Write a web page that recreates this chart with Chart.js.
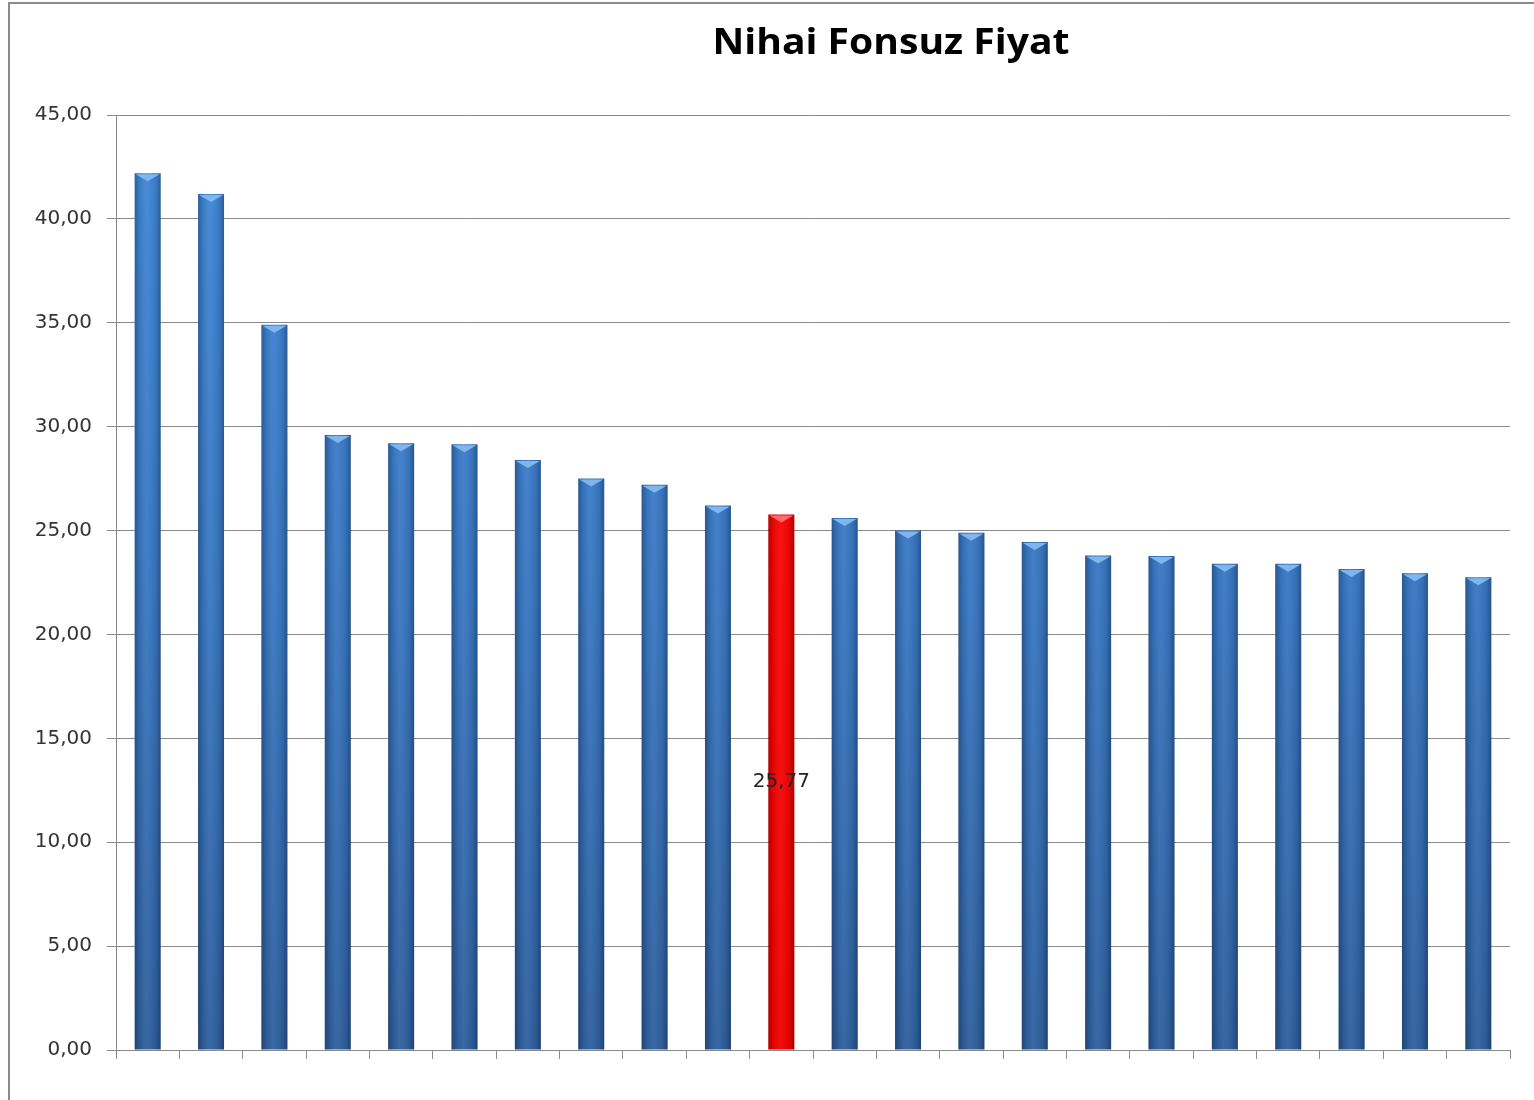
<!DOCTYPE html>
<html>
<head>
<meta charset="utf-8">
<script src="https://cdn.jsdelivr.net/npm/chart.js@4.4.1/dist/chart.umd.min.js"></script>
<style>
  html, body { margin: 0; padding: 0; background: #ffffff; }
  #wrap { position: relative; width: 1534px; height: 1100px; }
</style>
</head>
<body>
<div id="wrap"><canvas id="c"></canvas></div>
<script>
const chartTitle = "Nihai Fonsuz Fiyat";
const categories = ["1","2","3","4","5","6","7","8","9","10","11","12","13","14","15","16","17","18","19","20","21","22"];
const values = [42.2, 41.2, 34.9, 29.6, 29.2, 29.15, 28.4, 27.5, 27.2, 26.2, 25.77, 25.6, 25.0, 24.9, 24.45, 23.8, 23.77, 23.4, 23.4, 23.15, 22.95, 22.75];
const highlightIndex = [10];
const labelledIndex = [10];
const yTicks = [0, 5, 10, 15, 20, 25, 30, 35, 40, 45];

const fmt = v => v.toFixed(2).replace('.', ',');

function barFill(ctx) {
  const chart = ctx.chart;
  const area = chart.chartArea;
  const red = highlightIndex.includes(ctx.dataIndex);
  if (!area) return red ? '#ff0000' : '#3a7bc8';
  const g = chart.ctx.createLinearGradient(0, area.top, 0, area.bottom);
  if (red) {
    g.addColorStop(0, '#ff0a0a');
    g.addColorStop(1, '#f00000');
  } else {
    g.addColorStop(0, '#3f87d8');
    g.addColorStop(0.5, '#3877c2');
    g.addColorStop(1, '#2e5f9e');
  }
  return g;
}

const decorPlugin = {
  id: 'decor',
  afterDatasetsDraw(chart) {
    const c = chart.ctx;
    const meta = chart.getDatasetMeta(0);
    meta.data.forEach((el, i) => {
      const p = el.getProps(['x', 'y', 'base', 'width'], true);
      const l = p.x - p.width / 2, r = p.x + p.width / 2;
      const red = highlightIndex.includes(i);
      c.save();
      // cylinder shading
      const g = c.createLinearGradient(l, 0, r, 0);
      g.addColorStop(0, 'rgba(0,0,0,0.28)');
      g.addColorStop(0.18, 'rgba(0,0,0,0.08)');
      g.addColorStop(0.45, 'rgba(255,255,255,0.05)');
      g.addColorStop(0.82, 'rgba(0,0,0,0.08)');
      g.addColorStop(1, 'rgba(0,0,0,0.30)');
      c.fillStyle = g;
      c.fillRect(l, p.y, p.width, p.base - p.y);
      // top bevel
      c.beginPath();
      c.moveTo(l + 1, p.y + 1);
      c.lineTo(r - 1, p.y + 1);
      c.lineTo(p.x, p.y + 8);
      c.closePath();
      c.fillStyle = red ? '#ff6a6a' : '#7fb6ef';
      c.fill();
      c.restore();
      if (labelledIndex.includes(i)) {
        c.save();
        c.font = '20px "DejaVu Sans"';
        c.fillStyle = '#222222';
        c.textAlign = 'center';
        c.textBaseline = 'middle';
        c.fillText(fmt(values[i]), p.x, (p.y + p.base) / 2);
        c.restore();
      }
    });
  },
  afterDraw(chart) {
    const c = chart.ctx;
    c.save();
    // outer frame
    c.strokeStyle = '#8a8a8a';
    c.lineWidth = 2;
    c.beginPath();
    c.moveTo(9, 1100);
    c.lineTo(9, 3);
    c.lineTo(1534, 3);
    c.stroke();
    // title
    c.font = 'bold 36px "Open Sans"';
    const w = c.measureText(chartTitle).width;
    const sx = 357 / w;
    c.translate(891, 44);
    c.scale(sx, 1);
    c.fillStyle = '#000000';
    c.textAlign = 'center';
    c.textBaseline = 'middle';
    c.fillText(chartTitle, 0, 0);
    c.restore();
  }
};

new Chart(document.getElementById('c'), {
  type: 'bar',
  data: {
    labels: categories,
    datasets: [{
      data: values,
      backgroundColor: barFill,
      borderWidth: 0,
      categoryPercentage: 1.0,
      barPercentage: 0.41
    }]
  },
  options: {
    responsive: true,
    maintainAspectRatio: false,
    animation: false,
    events: [],
    layout: { padding: { top: 115, right: 24, bottom: 0, left: 0 } },
    plugins: { legend: { display: false }, title: { display: false }, tooltip: { enabled: false } },
    scales: {
      x: {
        offset: true,
        grid: { offset: true, drawOnChartArea: false, drawTicks: true, tickLength: 9, color: '#8a8a8a', lineWidth: 1 },
        border: { display: true, color: '#8a8a8a', width: 1 },
        ticks: { callback: () => '', padding: 0 },
        afterFit: s => { s.height = 50; }
      },
      y: {
        min: 0, max: 45,
        afterBuildTicks: s => { s.ticks = yTicks.map(v => ({ value: v })); },
        grid: { color: '#8a8a8a', lineWidth: 1, tickLength: 9 },
        border: { display: true, color: '#8a8a8a', width: 1 },
        ticks: {
          callback: v => fmt(v),
          color: '#333333',
          font: { family: '"DejaVu Sans"', size: 20 },
          padding: 15
        },
        afterFit: s => { s.width = 116; }
      }
    }
  },
  plugins: [decorPlugin]
});
</script>
</body>
</html>
